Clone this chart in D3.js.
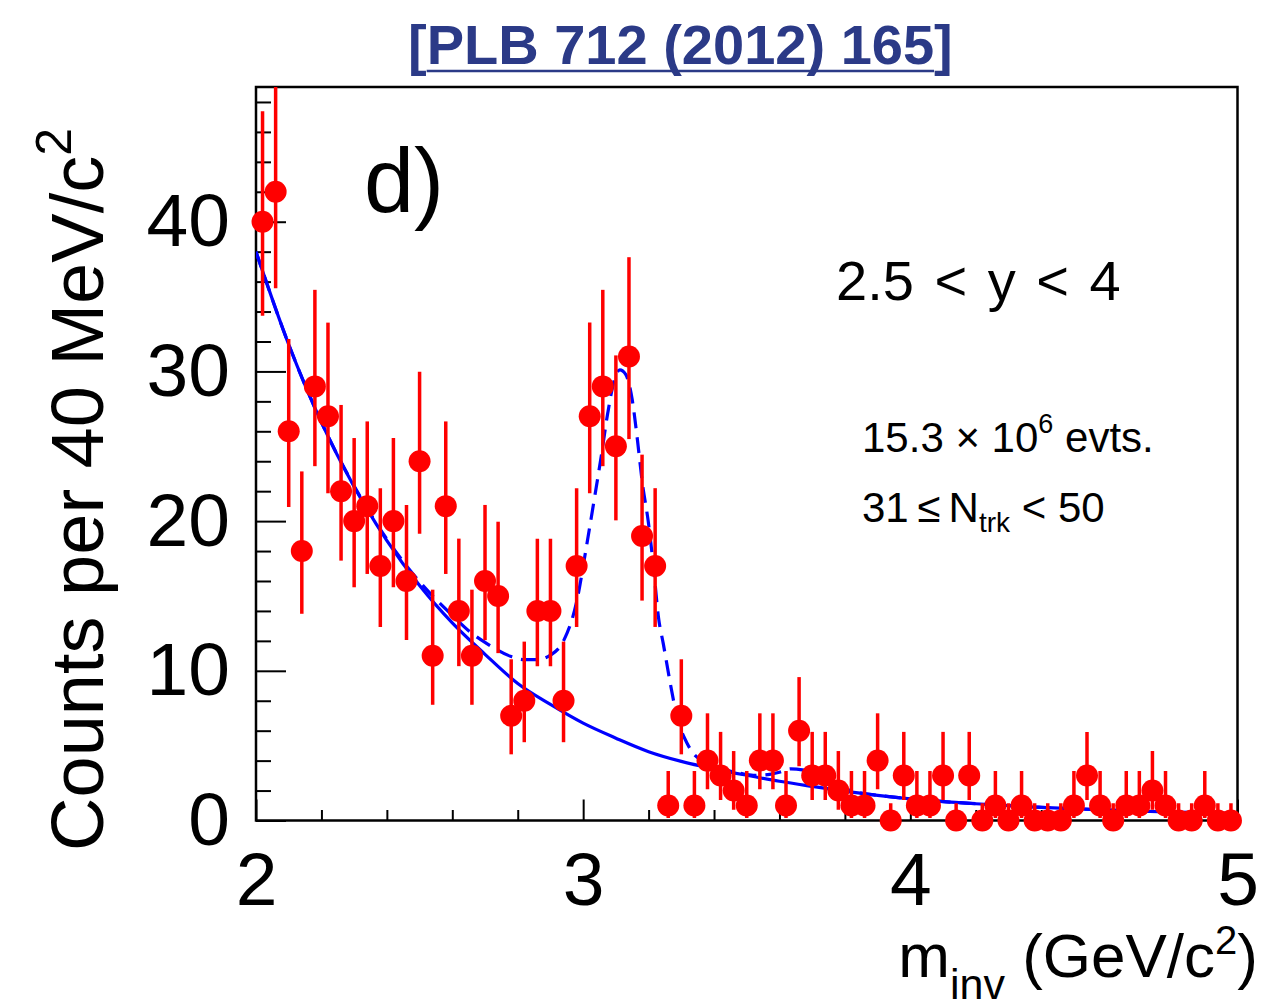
<!DOCTYPE html>
<html><head><meta charset="utf-8">
<script src="https://cdn.jsdelivr.net/npm/d3@7"></script>
<style>
body{margin:0;background:#fff}
svg{display:block}
text{font-family:"Liberation Sans",Arial,Helvetica,sans-serif}
</style>
</head><body>
<svg id="c" width="1261" height="1003"></svg>
<script>
// ---- data ----
const binCenters = [2.02,2.06,2.10,2.14,2.18,2.22,2.26,2.30,2.34,2.38,2.42,2.46,2.50,2.54,2.58,2.62,2.66,2.70,2.74,2.78,
  2.82,2.86,2.90,2.94,2.98,3.02,3.06,3.10,3.14,3.18,3.22,3.26,3.30,3.34,3.38,3.42,3.46,3.50,3.54,3.58,
  3.62,3.66,3.70,3.74,3.78,3.82,3.86,3.90,3.94,3.98,4.02,4.06,4.10,4.14,4.18,4.22,4.26,4.30,4.34,4.38,
  4.42,4.46,4.50,4.54,4.58,4.62,4.66,4.70,4.74,4.78,4.82,4.86,4.90,4.94,4.98];
const counts = [40,42,26,18,29,27,22,20,21,17,20,16,24,11,21,14,11,16,15,7,
  8,14,14,8,17,27,29,25,31,19,17,1,7,1,4,3,2,1,4,4,
  1,6,3,3,2,1,1,4,0,3,1,1,3,0,3,0,1,0,1,0,
  0,0,1,3,1,0,1,1,2,1,0,0,1,0,0];
const errLow = [6.28,6.44,5.05,4.19,5.33,5.14,4.64,4.42,4.53,4.07,4.42,3.95,4.85,3.27,4.53,3.69,3.27,3.95,3.82,2.58,
  2.77,3.69,3.69,2.77,4.07,5.14,5.33,4.95,5.52,4.31,4.07,0.83,2.58,0.83,1.91,1.63,1.29,0.83,1.91,1.91,
  0.83,2.38,1.63,1.63,1.29,0.83,0.83,1.91,0,1.63,0.83,0.83,1.63,0,1.63,0,0.83,0,0.83,0,
  0,0,0.83,1.63,0.83,0,0.83,0.83,1.29,0.83,0,0,0.83,0,0];
const errHigh = [7.38,7.54,6.16,5.32,6.45,6.26,5.76,5.55,5.66,5.20,5.55,5.08,5.97,4.42,5.66,4.83,4.42,5.08,4.96,3.77,
  3.95,4.83,4.83,3.95,5.20,6.26,6.45,6.07,6.63,5.44,5.20,2.30,3.77,2.30,3.16,2.92,2.64,2.30,3.16,3.16,
  2.30,3.58,2.92,2.92,2.64,2.30,2.30,3.16,1.15,2.92,2.30,2.30,2.92,1.15,2.92,1.15,2.30,1.15,2.30,1.15,
  1.15,1.15,2.30,2.92,2.30,1.15,2.30,2.30,2.64,2.30,1.15,1.15,2.30,1.15,1.15];

// background fit (solid)
const bkgX = [2.00,2.10,2.20,2.30,2.40,2.50,2.60,2.70,2.80,2.90,3.00,3.10,3.20,3.30,3.40,3.50,3.60,3.70,3.80,3.90,4.00,4.20,4.40,4.60,4.80,5.00];
const bkgY = [38.0,31.8,26.6,22.3,18.7,15.7,13.2,11.1,9.15,7.75,6.5,5.5,4.6,3.95,3.45,3.02,2.62,2.28,1.96,1.68,1.45,1.12,0.88,0.70,0.56,0.46];
// total fit (dashed)
const totX = [2.00,2.10,2.20,2.30,2.40,2.50,2.60,2.66,2.70,2.78,2.82,2.86,2.90,2.94,2.98,3.01,3.035,3.055,3.075,3.095,3.112,3.13,3.15,3.166,3.18,3.20,3.216,3.23,3.245,3.266,3.287,3.318,3.34,3.40,3.47,3.53,3.57,3.60,3.635,3.67,3.70,3.74,3.77,3.81,3.86,3.90,4.00,4.20,4.40,4.60,4.80,5.00];
const totY = [38.0,31.8,26.6,22.35,18.8,15.95,13.7,12.5,11.9,10.95,10.75,10.75,11.05,12.0,14.6,18.3,21.6,24.3,27.2,29.4,30.1,29.8,28.1,25.4,22.7,19.8,16.7,13.6,11.8,9.2,6.9,5.15,4.4,3.65,3.2,3.01,3.08,3.22,3.45,3.38,3.18,2.75,2.4,2.06,1.79,1.68,1.45,1.12,0.88,0.70,0.56,0.46];

const xMajorTicks = [2,3,4,5];
const yMajorTicks = [0,10,20,30,40];
const xMinorTicks = [2.2,2.4,2.6,2.8,3.2,3.4,3.6,3.8,4.2,4.4,4.6,4.8];
const yMinorTicks = [2,4,6,8,12,14,16,18,22,24,26,28,32,34,36,38,42,44,46,48];

// ---- drawing ----
const svg = d3.select('#c');
const L = 256, R = 1237.5, T = 87, B = 820.5;
const x = d3.scaleLinear().domain([2,5]).range([L,R]);
const y = d3.scaleLinear().domain([0,49]).range([B,T]);

svg.append('defs').append('clipPath').attr('id','clip')
  .append('rect').attr('x',L).attr('y',T).attr('width',R-L).attr('height',B-T);

// frame
svg.append('rect').attr('x',L).attr('y',T).attr('width',R-L).attr('height',B-T)
  .attr('fill','none').attr('stroke','#000').attr('stroke-width',2.5);

// x axis ticks
const gxMin = svg.append('g').attr('transform',`translate(0,${B})`)
  .call(d3.axisBottom(x).tickValues(xMinorTicks).tickSize(-10.5).tickFormat(''));
const gx = svg.append('g').attr('transform',`translate(0,${B})`)
  .call(d3.axisBottom(x).tickValues(xMajorTicks).tickSize(-21).tickPadding(31).tickFormat(d3.format('d')));
// y axis ticks
const gyMin = svg.append('g').attr('transform',`translate(${L},0)`)
  .call(d3.axisLeft(y).tickValues(yMinorTicks).tickSize(-15).tickFormat(''));
const gy = svg.append('g').attr('transform',`translate(${L},0)`)
  .call(d3.axisLeft(y).tickValues(yMajorTicks).tickSize(-30).tickPadding(26).tickFormat(d3.format('d')));
[gxMin,gx,gyMin,gy].forEach(g=>{
  g.select('.domain').remove();
  g.selectAll('line').attr('stroke','#000').attr('stroke-width',2);
  g.selectAll('text').attr('font-size',75).attr('fill','#000')
   .attr('font-family','"Liberation Sans",Arial,sans-serif');
});

// curves
const plot = svg.append('g').attr('clip-path','url(#clip)');
const line = d3.line().x(d=>x(d[0])).y(d=>y(d[1])).curve(d3.curveMonotoneX);
plot.append('path').attr('d', line(bkgX.map((v,i)=>[v,bkgY[i]])))
  .attr('fill','none').attr('stroke','#0000ff').attr('stroke-width',3.2);
plot.append('path').attr('d', line(totX.map((v,i)=>[v,totY[i]])))
  .attr('fill','none').attr('stroke','#0000ff').attr('stroke-width',3.2)
  .attr('stroke-dasharray','16,9');

// error bars
const pts = binCenters.map((c,i)=>({x:c, v:counts[i], lo:errLow[i], hi:errHigh[i]}));
plot.selectAll('line.err').data(pts).join('line').attr('class','err')
  .attr('x1',d=>x(d.x)).attr('x2',d=>x(d.x))
  .attr('y1',d=>y(d.v-d.lo)).attr('y2',d=>y(d.v+d.hi))
  .attr('stroke','#ff0000').attr('stroke-width',3.5);
// markers
svg.append('g').selectAll('circle').data(pts).join('circle')
  .attr('cx',d=>x(d.x)).attr('cy',d=>y(d.v)).attr('r',11).attr('fill','#ff0000');

// texts
svg.append('text').attr('x',364).attr('y',212).attr('font-size',90).text('d)');
svg.append('text').attr('x',836).attr('y',300).attr('font-size',56)
  .attr('word-spacing',5).text('2.5 < y < 4');

const t1 = svg.append('text').attr('x',862).attr('y',452).attr('font-size',42);
t1.append('tspan').text('15.3 \u00d7 10');
t1.append('tspan').attr('font-size',27).attr('dy',-19).text('6');
t1.append('tspan').attr('dy',19).text(' evts.');

const t2 = svg.append('text').attr('x',862).attr('y',522).attr('font-size',42);
t2.append('tspan').text('31\u2009\u2264\u2009N');
t2.append('tspan').attr('font-size',28).attr('dy',10).text('trk');
t2.append('tspan').attr('dy',-10).text(' < 50');

// axis titles
const xt = svg.append('text').attr('x',1258).attr('y',977).attr('font-size',62).attr('text-anchor','end');
xt.append('tspan').text('m');
xt.append('tspan').attr('font-size',43).attr('dy',22).text('inv');
xt.append('tspan').attr('dy',-22).text(' (GeV/c');
xt.append('tspan').attr('font-size',40).attr('dy',-23).text('2');
xt.append('tspan').attr('dy',23).text(')');

const yt = svg.append('text').attr('transform','translate(103,128) rotate(-90)')
  .attr('font-size',74).attr('text-anchor','end');
yt.append('tspan').text('Counts per 40 MeV/c');
yt.append('tspan').attr('font-size',50).attr('dy',-32).text('2');

// title
const title = svg.append('text').attr('x',408).attr('y',64).attr('font-size',56)
  .attr('font-weight','bold').attr('fill','#2b3a87').text('[PLB 712 (2012) 165]');
const node = title.node();
const s = node.getStartPositionOfChar(1).x;
const e = node.getEndPositionOfChar(node.getNumberOfChars()-2).x;
svg.append('line').attr('x1',s).attr('x2',e).attr('y1',71).attr('y2',71)
  .attr('stroke','#2b3a87').attr('stroke-width',2.5);
</script>
</body></html>
